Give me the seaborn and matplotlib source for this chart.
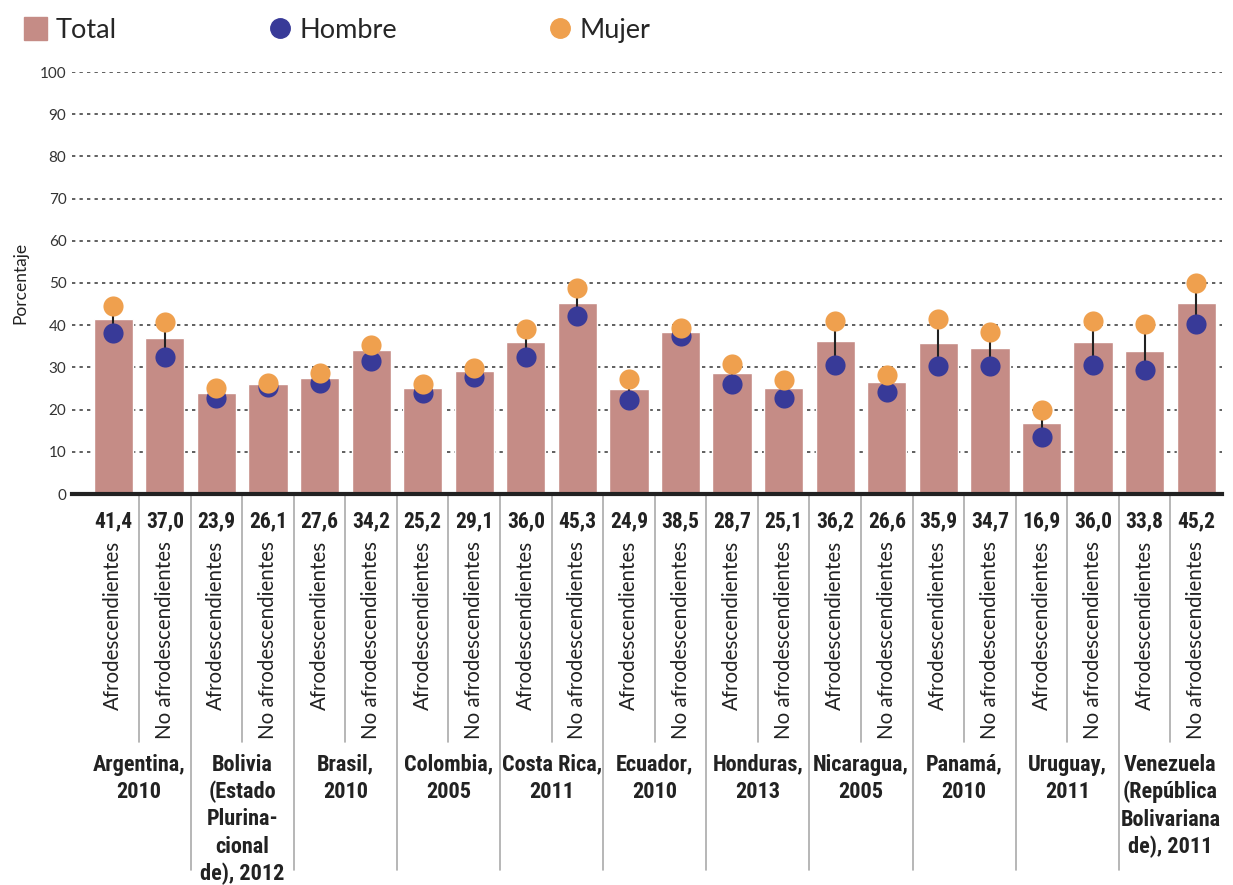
import numpy as np
import pandas as pd
import matplotlib
matplotlib.use("Agg")
import matplotlib.pyplot as plt
import seaborn as sns
from matplotlib.lines import Line2D
from matplotlib.patches import Patch

# data
countries = ["Argentina,\n2010", "Bolivia\n(Estado\nPlurina-\ncional\nde), 2012",
             "Brasil,\n2010", "Colombia,\n2005", "Costa Rica,\n2011", "Ecuador,\n2010",
             "Honduras,\n2013", "Nicaragua,\n2005", "Panamá,\n2010", "Uruguay,\n2011",
             "Venezuela\n(República\nBolivariana\nde), 2011"]
groups = ["Afrodescendientes", "No afrodescendientes"]
totals = [41.4, 37.0, 23.9, 26.1, 27.6, 34.2, 25.2, 29.1, 36.0, 45.3, 24.9,
          38.5, 28.7, 25.1, 36.2, 26.6, 35.9, 34.7, 16.9, 36.0, 33.8, 45.2]
hombre = [38.1, 32.5, 22.7, 25.4, 26.2, 31.5, 24.0, 27.8, 32.5, 42.2, 22.3,
          37.4, 26.0, 22.8, 30.6, 24.2, 30.4, 30.4, 13.4, 30.6, 29.4, 40.4]
mujer = [44.5, 40.8, 25.2, 26.2, 28.7, 35.3, 26.0, 29.8, 39.1, 48.9, 27.3,
         39.4, 30.7, 26.9, 41.0, 28.2, 41.5, 38.5, 19.9, 41.0, 40.2, 49.9]

c_total = "#C58C86"
c_hombre = "#383A98"
c_mujer = "#EFA04E"
narrow = ["Roboto Condensed", "Lato", "DejaVu Sans"]

ids = [f"{c.split(',')[0]}|{g}" for c in countries for g in groups]
df = pd.DataFrame({"id": ids, "total": totals, "hombre": hombre, "mujer": mujer})

sns.set_theme(style="white")
plt.rcParams["font.family"] = ["Lato", "DejaVu Sans"]

fig = plt.figure(figsize=(12.33, 8.85), dpi=100)
ax = fig.add_axes([72 / 1233, 391 / 885, 1150 / 1233, 422 / 885])

sns.barplot(data=df, x="id", y="total", color=c_total, saturation=1, width=0.76, ax=ax, zorder=2)
pos = np.arange(len(df))
ax.vlines(pos, df["hombre"], df["mujer"], color="#222222", lw=1.5, zorder=3)
sns.stripplot(data=df, x="id", y="hombre", jitter=False, color=c_hombre, size=14.5,
              linewidth=0, ax=ax, zorder=4)
sns.stripplot(data=df, x="id", y="mujer", jitter=False, color=c_mujer, size=14.5,
              linewidth=0, ax=ax, zorder=5)
for coll in ax.collections:
    coll.set_clip_on(False)

ax.set_xlim(-0.8, 21.5)
ax.set_ylim(0, 100)
ax.set_yticks(range(0, 101, 10))
ax.tick_params(axis="y", length=0, labelsize=11, labelcolor="#333333", pad=4)
for y in range(10, 101, 10):
    ax.axhline(y, color="#444444", lw=1.2, ls=(0, (2, 2.5)), zorder=1)
ax.set_ylabel("Porcentaje", fontsize=12.5, color="#222222", labelpad=8)
ax.set_xlabel("")
for s in ["top", "right", "left"]:
    ax.spines[s].set_visible(False)
ax.spines["bottom"].set_linewidth(3)
ax.spines["bottom"].set_color("#222222")

# category labels
ax.set_xticks(pos)
ax.set_xticklabels(groups * len(countries), rotation=90, va="top", ha="center",
                   fontsize=14.8, color="#222222")
ax.tick_params(axis="x", length=0, pad=34)

tr = ax.get_xaxis_transform()
for i, v in enumerate(totals):
    ax.text(i, -0.064, f"{v:.1f}".replace(".", ","), transform=tr, ha="center", va="center",
            fontsize=15.5, fontweight="bold", fontstretch="condensed", family=narrow,
            color="#222222")

for k, c in enumerate(countries):
    ax.text(2 * k + 0.5, -0.615, c, transform=tr, ha="center", va="top", fontsize=16,
            fontweight="bold", fontstretch="condensed", family=narrow, color="#222222",
            linespacing=1.3)
    # separators
    ax.plot([2 * k + 0.5] * 2, [0, -0.588], transform=tr, color="#AAAAAA", lw=1.2, clip_on=False)
    if k < len(countries) - 1:
        ax.plot([2 * k + 1.5] * 2, [0, -0.891], transform=tr, color="#AAAAAA", lw=1.2, clip_on=False)

handles = [Patch(color=c_total),
           Line2D([], [], marker="o", ls="", color=c_hombre, markersize=14),
           Line2D([], [], marker="o", ls="", color=c_mujer, markersize=14)]
fig.legend(handles, ["Total", "Hombre", "Mujer"], loc="upper left", bbox_to_anchor=(0.0, 1.008),
           ncol=3, frameon=False, fontsize=19.5, handlelength=0.85, handleheight=0.9,
           handletextpad=0.3, columnspacing=5.6)

fig.savefig("out.png", dpi=100)
